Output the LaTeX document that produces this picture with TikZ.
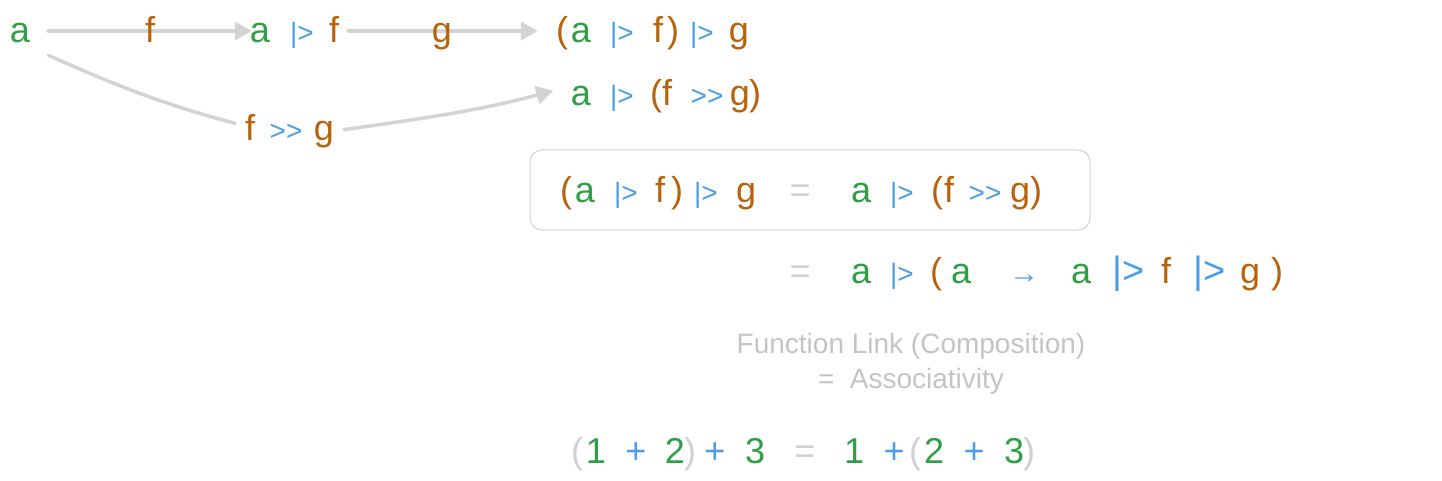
\documentclass[tikz,border=0pt]{standalone}
\usepackage{fontspec}
\setmainfont{Liberation Sans}
\usepackage{xcolor}
\usepackage{tikz}
\usetikzlibrary{arrows.meta,backgrounds}

\definecolor{varGreen}{HTML}{2F9E44}
\definecolor{funOrange}{HTML}{B8620C}
\definecolor{opBlue}{HTML}{4A9EE8}
\definecolor{eqGrey}{HTML}{D0D0D0}
\definecolor{lineGrey}{HTML}{D3D3D3}
\definecolor{noteGrey}{HTML}{C4C4C4}

\begin{document}
\begin{tikzpicture}[
    x=1pt, y=-1pt,
    tok/.style={anchor=base, inner sep=0pt, text height=28pt, text depth=4pt, font=\fontsize{36}{40}\selectfont},
    var/.style={tok, text=varGreen},
    fun/.style={tok, text=funOrange},
    pipe/.style={tok, text=opBlue, font=\fontsize{28}{32}\selectfont},
    bigpipe/.style={tok, text=opBlue, font=\fontsize{38}{42}\selectfont},
    plus/.style={tok, text=opBlue},
    eqs/.style={tok, text=eqGrey},
    note/.style={text=noteGrey, align=center, inner sep=0pt, font=\fontsize{28}{35}\selectfont},
    link/.style={draw=lineGrey, line width=3.5pt, line cap=round},
    arrow/.style={link, -{Triangle[length=17pt, width=18pt]}},
    eqbox/.style={draw=eqGrey, line width=1pt, rounded corners=12pt}
]
\useasboundingbox (0,0) rectangle (1442,481);

% Row 1: piping step by step
\node[var] (a0) at (20,43) {a};
\node[fun] (fLbl) at (150,43) {f};
\node[var] (a1) at (260,43) {a};
\node[pipe] (p1) at (302,43) {|>};
\node[fun] (f1) at (334,43) {f};
\node[fun] (gLbl) at (442,43) {g};
\node[fun] (r1lp) at (562,43) {(};
\node[var] (r1a) at (581,43) {a};
\node[pipe] (r1p1) at (622,43) {|>};
\node[fun] (r1f) at (658,43) {f};
\node[fun] (r1rp) at (673,43) {)};
\node[pipe] (r1p2) at (702,43) {|>};
\node[fun] (r1g) at (739,43) {g};

% Row 2: composed function
\node[var] (r2a) at (581,106) {a};
\node[pipe] (r2p) at (622,106) {|>};
\node[fun] (r2lp) at (656,106) {(};
\node[fun] (r2f) at (667,106) {f};
\node[pipe] (r2c) at (707,106) {>{}>};
\node[fun] (r2g) at (740,106) {g};
\node[fun] (r2rp) at (755,106) {)};

% Composition label
\node[fun] (fgF) at (250,141) {f};
\node[pipe] (fgC) at (286,141) {>{}>};
\node[fun] (fgG) at (324,141) {g};

% Arrows
\begin{scope}[on background layer]
\draw[arrow, shorten <=18pt, shorten >=-2pt] (a0) -- (a1);
\draw[arrow, shorten <=9pt, shorten >=18pt] (f1) -- (r1lp);
\draw[link, shorten <=20pt, shorten >=10pt] (a0.south east) to[out=-24, in=165] ([yshift=3pt]fgF.west);
\draw[arrow, shorten <=10pt, shorten >=18pt] ([yshift=-2pt]fgG.east) to[out=8, in=195] ([yshift=8pt]r2a.west);
\end{scope}

% Equation in the box
\node[fun] (b1lp) at (566,203) {(};
\node[var] (b1a) at (585,203) {a};
\node[pipe] (b1p1) at (626,203) {|>};
\node[fun] (b1f) at (660,203) {f};
\node[fun] (b1rp) at (677,203) {)};
\node[pipe] (b1p2) at (706,203) {|>};
\node[fun] (b1g) at (746,203) {g};
\node[eqs] (b1eq) at (800,203) {=};
\node[var] (b2a) at (861,203) {a};
\node[pipe] (b2p) at (902,203) {|>};
\node[fun] (b2lp) at (937,203) {(};
\node[fun] (b2f) at (949,203) {f};
\node[pipe] (b2c) at (985,203) {>{}>};
\node[fun] (b2g) at (1020,203) {g};
\node[fun] (b2rp) at (1036,203) {)};
\draw[eqbox] (530,150) rectangle (1090,230);

% Expanded form
\node[eqs] (c0eq) at (800,283) {=};
\node[var] (c0a) at (861,283) {a};
\node[pipe] (c0p) at (902,283) {|>};
\node[fun] (c0lp) at (936,283) {(};
\node[var] (c0x) at (961,283) {a};
\node[pipe, font=\fontsize{30}{34}\selectfont] (c0to) at (1024,283) {→};
\node[var] (c0y) at (1081,283) {a};
\node[bigpipe] (c0p1) at (1129,283) {|>};
\node[fun] (c0f) at (1166,283) {f};
\node[bigpipe] (c0p2) at (1210,283) {|>};
\node[fun] (c0g) at (1250,283) {g};
\node[fun] (c0rp) at (1277,283) {)};

% Note
\node[note] (note) at (911,364) {Function Link (Composition)\\=\ \ Associativity};

% Numbers
\node[eqs] (n1lp) at (577,463) {(};
\node[var] (n1) at (596,463) {1};
\node[plus] (n1p) at (636,463) {+};
\node[var] (n2) at (675,463) {2};
\node[eqs] (n1rp) at (690,463) {)};
\node[plus] (n2p) at (715,463) {+};
\node[var] (n3) at (755,463) {3};
\node[eqs] (neq) at (805,463) {=};
\node[var] (m1) at (854,463) {1};
\node[plus] (m1p) at (894,463) {+};
\node[eqs] (m2lp) at (915,463) {(};
\node[var] (m2) at (934,463) {2};
\node[plus] (m2p) at (974,463) {+};
\node[var] (m3) at (1014,463) {3};
\node[eqs] (m2rp) at (1029,463) {)};
\end{tikzpicture}
\end{document}
